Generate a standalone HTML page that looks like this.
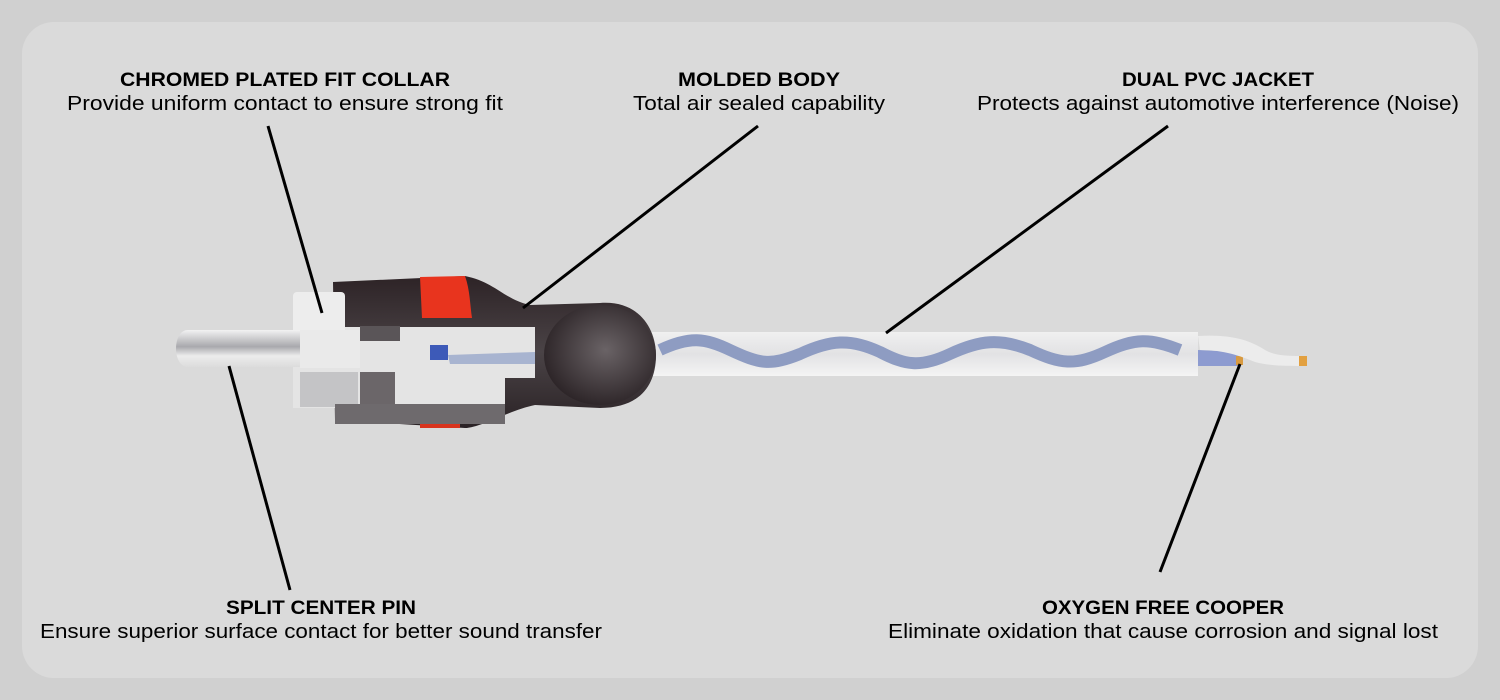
<!DOCTYPE html>
<html><head><meta charset="utf-8"><style>
html,body{margin:0;padding:0;background:#d0d0d0;}
svg{display:block}
text{font-family:"Liberation Sans",sans-serif;fill:#000;}
.t{font-weight:bold;font-size:19px;}
.s{font-size:20px;}
</style></head><body>
<svg width="1500" height="700" viewBox="0 0 1500 700">
<defs>
<linearGradient id="pin" x1="0" y1="0" x2="0" y2="1">
<stop offset="0" stop-color="#f2f2f2"/><stop offset="0.45" stop-color="#a9a9ad"/><stop offset="0.7" stop-color="#ececec"/><stop offset="1" stop-color="#dcdcdc"/></linearGradient>
<linearGradient id="dark" x1="0" y1="0" x2="0" y2="1">
<stop offset="0" stop-color="#2d2326"/><stop offset="0.5" stop-color="#4a4346"/><stop offset="1" stop-color="#2a2225"/></linearGradient>
<radialGradient id="bulb" cx="0.55" cy="0.45" r="0.6">
<stop offset="0" stop-color="#6a6366"/><stop offset="1" stop-color="#2a2225"/></radialGradient>
<linearGradient id="cab" x1="0" y1="0" x2="0" y2="1">
<stop offset="0" stop-color="#f0f0f0"/><stop offset="0.5" stop-color="#e2e2e4"/><stop offset="1" stop-color="#f4f4f4"/></linearGradient>
</defs>
<rect x="22" y="22" width="1456" height="656" rx="32" fill="#dadada"/>

<!-- cable -->
<rect x="650" y="332" width="548" height="44" fill="url(#cab)"/>
<path d="M660 350 C690 336 705 338 730 350 C760 364 770 366 800 354 C830 340 850 338 880 352 C905 365 920 368 950 354 C980 340 1000 338 1030 350 C1060 364 1075 366 1105 352 C1135 338 1150 338 1180 350" fill="none" stroke="#8e9cc2" stroke-width="12"/>
<path d="M1198 350 L1240 352 L1240 366 L1198 366 Z" fill="#8d9bd0"/>
<rect x="1236" y="356" width="7" height="9" fill="#d89a40"/>
<path d="M1198 336 C1230 334 1250 340 1265 350 C1275 356 1290 356 1300 356 L1302 366 C1285 366 1270 366 1255 362 C1240 356 1225 350 1200 350 Z" fill="#ececec"/>
<rect x="1299" y="356" width="8" height="10" fill="#e2a040"/>

<!-- body bulb -->
<path d="M333 282 L465 276 C495 282 505 300 530 305 L600 303 C640 300 656 330 656 355 C656 385 640 408 600 408 L535 405 C510 410 480 428 465 428 L335 420 Z" fill="url(#dark)"/>
<ellipse cx="600" cy="355" rx="56" ry="50" fill="url(#bulb)"/>
<path d="M420 277 L465 276 C470 290 470 305 472 318 L422 318 Z" fill="#e8341e"/>
<rect x="420" y="421" width="40" height="7" fill="#d8341e"/>
<!-- cutaway -->
<path d="M293 327 L535 327 L535 378 L505 378 L505 408 L293 408 Z" fill="#e4e4e4"/>
<rect x="360" y="326" width="40" height="15" fill="#5a5558"/>
<rect x="360" y="372" width="35" height="35" fill="#6b6669"/>
<rect x="300" y="372" width="58" height="35" fill="#c4c4c6"/>
<rect x="335" y="404" width="170" height="20" fill="#6e6a6d"/>
<rect x="430" y="345" width="18" height="15" fill="#3d5ab8"/>
<path d="M448 355 L535 352 L535 364 L450 364Z" fill="#a8b4d0"/>
<!-- collar -->
<rect x="293" y="292" width="52" height="50" rx="4" fill="#ededed"/>
<!-- pin -->
<path d="M188 330 L320 330 L320 367 L188 367 C172 367 172 330 188 330 Z" fill="url(#pin)"/>
<rect x="300" y="330" width="60" height="38" fill="#eaeaea"/>

<!-- leader lines -->
<g stroke="#000" stroke-width="3">
<line x1="268" y1="126" x2="322" y2="313"/>
<line x1="758" y1="126" x2="523" y2="308"/>
<line x1="1168" y1="126" x2="886" y2="333"/>
<line x1="229" y1="366" x2="290" y2="590"/>
<line x1="1240" y1="364" x2="1160" y2="572"/>
</g>

<!-- labels -->
<text class="t" x="285" y="86" text-anchor="middle" textLength="330" lengthAdjust="spacingAndGlyphs">CHROMED  PLATED FIT COLLAR</text>
<text class="s" x="285" y="110" text-anchor="middle" textLength="436" lengthAdjust="spacingAndGlyphs">Provide uniform contact to ensure strong fit</text>
<text class="t" x="759" y="86" text-anchor="middle" textLength="162" lengthAdjust="spacingAndGlyphs">MOLDED BODY</text>
<text class="s" x="759" y="110" text-anchor="middle" textLength="252" lengthAdjust="spacingAndGlyphs">Total air sealed capability</text>
<text class="t" x="1218" y="86" text-anchor="middle" textLength="192" lengthAdjust="spacingAndGlyphs">DUAL PVC JACKET</text>
<text class="s" x="1218" y="110" text-anchor="middle" textLength="482" lengthAdjust="spacingAndGlyphs">Protects against automotive interference (Noise)</text>
<text class="t" x="321" y="614" text-anchor="middle" textLength="190" lengthAdjust="spacingAndGlyphs">SPLIT CENTER PIN</text>
<text class="s" x="321" y="638" text-anchor="middle" textLength="562" lengthAdjust="spacingAndGlyphs">Ensure superior surface contact for better sound transfer</text>
<text class="t" x="1163" y="614" text-anchor="middle" textLength="242" lengthAdjust="spacingAndGlyphs">OXYGEN FREE COOPER</text>
<text class="s" x="1163" y="638" text-anchor="middle" textLength="550" lengthAdjust="spacingAndGlyphs">Eliminate oxidation that cause corrosion and signal lost</text>
</svg>
</body></html>
